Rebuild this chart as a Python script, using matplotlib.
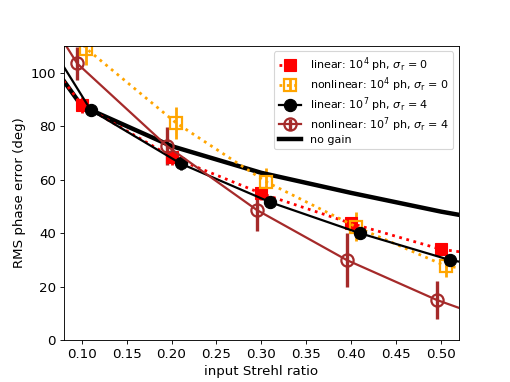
import matplotlib
matplotlib.use('Agg')
import matplotlib.pyplot as plt

# input Strehl ratio (each series slightly offset in x)
strehl_lin4 = [0.05, 0.10, 0.20, 0.30, 0.40, 0.50, 0.60]
rms_lin4 = [110, 88, 68.5, 54.8, 43.6, 33.9, 29.5]
err_lin4 = [3, 3, 3, 2.5, 2.5, 2, 2]

strehl_nl4 = [0.055, 0.105, 0.205, 0.305, 0.405, 0.505, 0.605]
rms_nl4 = [130, 109, 81.2, 59.2, 42.4, 27.7, 23]
err_nl4 = [6, 6, 6, 5, 5.5, 4, 4]

strehl_lin7 = [0.06, 0.11, 0.21, 0.31, 0.41, 0.51, 0.61]
rms_lin7 = [113, 86, 66, 51.5, 39.9, 29.9, 24]
err_lin7 = [2, 2, 2.5, 2, 2, 1.5, 1.5]

strehl_nl7 = [0.045, 0.095, 0.195, 0.295, 0.395, 0.495, 0.595]
rms_nl7 = [130, 103.4, 72.5, 48.6, 29.9, 15, 3]
err_nl7 = [6, 6, 7, 8, 10, 7, 7]

strehl_nogain = [0.05, 0.10, 0.20, 0.30, 0.40, 0.50, 0.60]
rms_nogain = [111, 87.5, 72.5, 62.5, 55, 48, 42]

plt.rcParams['font.size'] = 12

fig = plt.figure(figsize=(6.375, 4.775), dpi=80)

h1 = plt.errorbar(strehl_lin4, rms_lin4, yerr=err_lin4, color='red', ls=':', lw=2.5,
                  marker='s', ms=10, elinewidth=2.5,
                  label=r'linear: $10^4$ ph, $\sigma_{\rm r}$ = 0')
h2 = plt.errorbar(strehl_nl4, rms_nl4, yerr=err_nl4, color='orange', ls=':', lw=2.5,
                  marker='s', ms=10, mfc='none', mew=2, elinewidth=2.5,
                  label=r'nonlinear: $10^4$ ph, $\sigma_{\rm r}$ = 0')
h3 = plt.errorbar(strehl_lin7, rms_lin7, yerr=err_lin7, color='black', ls='-', lw=2,
                  marker='o', ms=11, elinewidth=2.5,
                  label=r'linear: $10^7$ ph, $\sigma_{\rm r}$ = 4')
h4 = plt.errorbar(strehl_nl7, rms_nl7, yerr=err_nl7, color='brown', ls='-', lw=2,
                  marker='o', ms=11, mfc='none', mew=2, elinewidth=3,
                  label=r'nonlinear: $10^7$ ph, $\sigma_{\rm r}$ = 4')
h5, = plt.plot(strehl_nogain, rms_nogain, color='black', lw=4, label='no gain')

plt.xlim(0.08, 0.52)
plt.ylim(0, 110)
plt.xlabel('input Strehl ratio')
plt.ylabel('RMS phase error (deg)')
plt.legend(handles=[h1, h2, h3, h4, h5], loc='upper right', fontsize=10,
           labelspacing=0.1)

plt.savefig('out.png', dpi=80)
